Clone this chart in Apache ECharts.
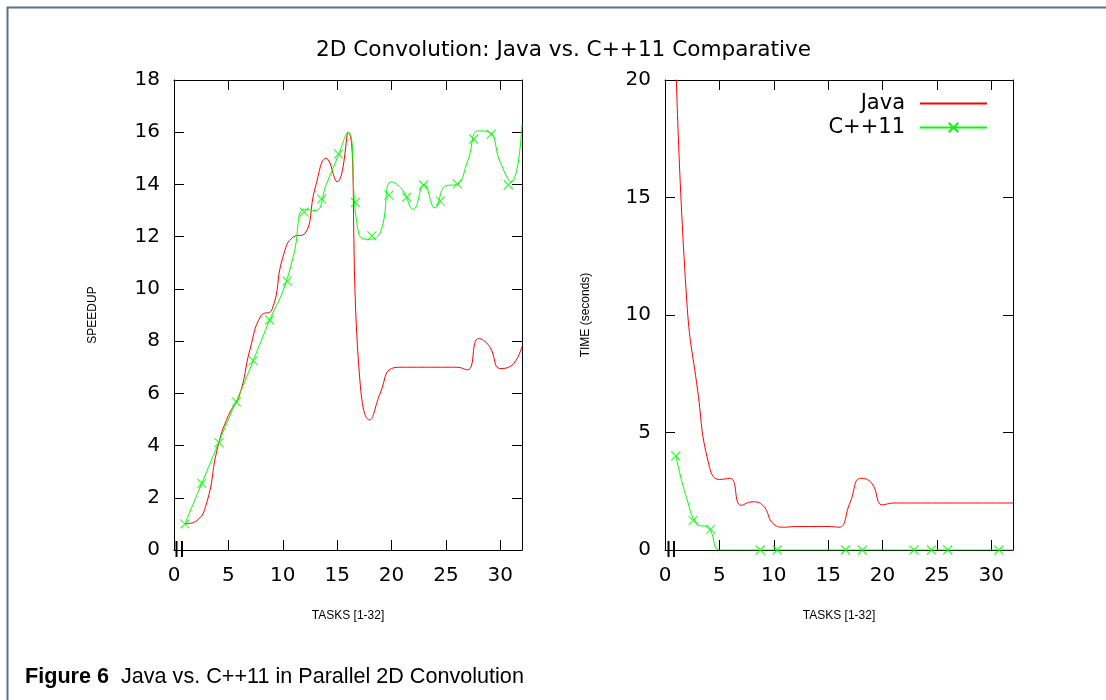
<!DOCTYPE html>
<html>
<head>
<meta charset="utf-8">
<title>2D Convolution: Java vs. C++11</title>
<script src="https://cdn.jsdelivr.net/npm/echarts@6/dist/echarts.min.js"></script>
<style>
  html, body { margin: 0; padding: 0; background: #fff; }
  #chart { width: 1106px; height: 700px; }
</style>
</head>
<body>
<div id="chart"></div>
<script>
// tasks 1..32
const tasks = [1, 2, 3, 4, 5, 6, 7, 8, 9, 10, 11, 12, 13, 14, 15, 16,
  17, 18, 19, 20, 21, 22, 23, 24, 25, 26, 27, 28, 29, 30, 31, 32]

// left plot: speedup
const javaSpeedup = [1.0, 1.1, 1.8, 3.9, 5.15, 5.9, 7.7, 8.97, 9.2, 11.2, 12.0, 12.1, 13.9, 15.0, 14.1, 16.0,
  7.0, 4.98, 6.05, 6.95, 7.0, 7.0, 7.0, 7.0, 7.0, 7.0, 6.9, 8.1, 7.8, 6.95, 7.05, 7.8]
const cppSpeedup = [1.0, 2.0, 3.0, 4.0, 5.0, 5.95, 6.95, 8.0, 9.0, 9.9, 11.3, 13.05, 13.0, 14.0, 15.0, 16.0,
  12.1, 11.9, 12.2, 14.1, 13.8, 13.05, 14.0, 13.1, 13.95, 14.0, 14.9, 16.05, 16.0, 14.85, 14.1, 16.3]
// C++11 point markers (every 5th sample of the smoothed curve)
const cppSpeedupMarkX = [1.0, 2.56, 4.15, 5.74, 7.3, 8.8, 10.41, 11.97, 13.57, 15.13,
  16.69, 18.2, 19.77, 21.4, 22.95, 24.49, 26.04, 27.57, 29.17, 30.75]
const cppSpeedupMarkY = [1.0, 2.55, 4.11, 5.67, 7.25, 8.81, 10.3, 12.94, 13.45, 15.17,
  13.31, 12.03, 13.59, 13.51, 13.98, 13.36, 14.02, 15.74, 15.93, 13.98]

// right plot: time (seconds)
const javaTime = [20.7, 10.6, 6.8, 3.7, 3.0, 3.05, 1.9, 2.05, 1.9, 1.1, 0.97, 1.0, 1.0, 1.0, 1.0, 0.97,
  2.0, 3.05, 2.85, 1.92, 2.0, 2.0, 2.0, 2.0, 2.0, 2.0, 2.0, 2.0, 2.0, 2.0, 2.0, 2.0]
const cppTime = [4.0, 2.2, 1.1, 0.95, 0, 0, 0, 0, 0, 0, 0, 0, 0, 0, 0, 0,
  0, 0, 0, 0, 0, 0, 0, 0, 0, 0, 0, 0, 0, 0, 0, 0]
const cppTimeMarkX = [1.0, 2.59, 4.2, 8.76, 10.32, 16.6, 18.15, 22.9, 24.5, 26.0, 30.7]
const cppTimeMarkY = [4.0, 1.26, 0.88, 0, 0, 0, 0, 0, 0, 0, 0]

const xTicks = { min: 0, max: 32, interval: 5 }
const speedupTicks = { min: 0, max: 18, interval: 2 }
const timeTicks = { min: 0, max: 20, interval: 5 }

const RED = '#ff0000'
const GREEN = '#00ff00'
const CROSS = 'path://M0,0L10,10M10,0L0,10'

const pairs = (xs, ys) => xs.map((x, i) => [x, ys[i]])

const tick = { show: true, inside: true, length: 10, lineStyle: { color: '#000', width: 1 } }
const line = { show: true, onZero: false, lineStyle: { color: '#000', width: 1 } }
const label = { margin: 16, fontFamily: 'DejaVu Sans', fontSize: 20, color: '#000', showMaxLabel: false }
const nameFont = { fontFamily: 'Liberation Sans', fontSize: 12, color: '#000' }

function xAxes(g, z) {
  return [
    Object.assign({ type: 'value', gridIndex: g, position: 'bottom', z: z,
      name: 'TASKS [1-32]', nameLocation: 'middle', nameGap: 60, nameTextStyle: nameFont,
      axisLine: line, axisTick: tick, axisLabel: label, splitLine: { show: false } }, xTicks),
    Object.assign({ type: 'value', gridIndex: g, position: 'top',
      axisLine: line, axisTick: tick, axisLabel: { show: false }, splitLine: { show: false } }, xTicks)
  ]
}

function yAxes(g, ticks, name, gap) {
  return [
    Object.assign({ type: 'value', gridIndex: g, position: 'left',
      name: name, nameLocation: 'middle', nameGap: gap, nameTextStyle: nameFont,
      axisLine: line, axisTick: tick, axisLabel: Object.assign({}, label, { margin: 14, showMaxLabel: true }),
      splitLine: { show: false } }, ticks),
    Object.assign({ type: 'value', gridIndex: g, position: 'right',
      axisLine: line, axisTick: tick, axisLabel: { show: false }, splitLine: { show: false } }, ticks)
  ]
}

const chart = echarts.init(document.getElementById('chart'))

chart.setOption({
  animation: false,
  backgroundColor: '#fff',
  title: [{
    text: '2D Convolution: Java vs. C++11 Comparative',
    left: 316,
    top: 39,
    padding: 0,
    textStyle: { fontFamily: 'DejaVu Sans', fontSize: 21.6, fontWeight: 'normal', color: '#000' }
  }, {
    text: '{b|Figure 6}  Java vs. C++11 in Parallel 2D Convolution',
    left: 25,
    top: 666,
    padding: 0,
    textStyle: {
      fontFamily: 'Liberation Sans', fontSize: 21.6, fontWeight: 'normal', color: '#000',
      rich: { b: { fontFamily: 'Liberation Sans', fontSize: 21.6, fontWeight: 'bold', color: '#000' } }
    }
  }],
  legend: {
    orient: 'vertical',
    right: 113,
    top: 88,
    align: 'right',
    itemWidth: 67,
    itemHeight: 12,
    itemGap: 3,
    selectedMode: false,
    textStyle: { fontFamily: 'DejaVu Sans', fontSize: 21, lineHeight: 20, color: '#000', padding: [0, 10, 0, 0] },
    data: [{ name: 'Java', itemStyle: { opacity: 0 } }, 'C++11']
  },
  grid: [
    { left: 174, top: 80, width: 348, height: 470 },
    { left: 665, top: 80, width: 348, height: 470 }
  ],
  xAxis: xAxes(0, 0).concat(xAxes(1, 3)),
  yAxis: yAxes(0, speedupTicks, 'SPEEDUP', 75).concat(yAxes(1, timeTicks, 'TIME (seconds)', 73)),
  series: [
    {
      name: 'Java', type: 'line', xAxisIndex: 0, yAxisIndex: 0,
      data: pairs(tasks, javaSpeedup), smooth: 0.5, symbol: 'none',
      lineStyle: { color: RED, width: 1 }, itemStyle: { color: RED }
    },
    {
      name: 'C++11', type: 'line', xAxisIndex: 0, yAxisIndex: 0,
      data: pairs(tasks, cppSpeedup), smooth: 0.5, symbol: CROSS, showSymbol: false,
      lineStyle: { color: GREEN, width: 1 },
      itemStyle: { color: GREEN, borderColor: GREEN, borderWidth: 1.2 }
    },
    {
      type: 'scatter', xAxisIndex: 0, yAxisIndex: 0, z: 4,
      data: pairs(cppSpeedupMarkX, cppSpeedupMarkY), symbol: CROSS, symbolSize: 9,
      itemStyle: { color: GREEN, borderColor: GREEN, borderWidth: 1.2 }
    },
    {
      name: 'Java', type: 'line', xAxisIndex: 2, yAxisIndex: 2,
      data: pairs(tasks, javaTime), smooth: 0.5, symbol: 'none',
      lineStyle: { color: RED, width: 1 }, itemStyle: { color: RED }
    },
    {
      name: 'C++11', type: 'line', xAxisIndex: 2, yAxisIndex: 2,
      data: pairs(tasks, cppTime), smooth: 0.5, symbol: CROSS, showSymbol: false,
      lineStyle: { color: GREEN, width: 1 },
      itemStyle: { color: GREEN, borderColor: GREEN, borderWidth: 1.2 }
    },
    {
      type: 'scatter', xAxisIndex: 2, yAxisIndex: 2, z: 4,
      data: pairs(cppTimeMarkX, cppTimeMarkY), symbol: CROSS, symbolSize: 9,
      itemStyle: { color: GREEN, borderColor: GREEN, borderWidth: 1.2 }
    }
  ],
  graphic: [
    // page frame (left and top edges)
    { type: 'polyline', shape: { points: [[7.5, 700], [7.5, 7.5], [1106, 7.5]] },
      style: { stroke: '#56728f', lineWidth: 2, fill: null } },
    // small double bars at the origin
    { type: 'line', shape: { x1: 176.5, y1: 541, x2: 176.5, y2: 557 }, style: { stroke: '#000', lineWidth: 2 } },
    { type: 'line', shape: { x1: 182, y1: 541, x2: 182, y2: 557 }, style: { stroke: '#000', lineWidth: 2 } },
    { type: 'line', shape: { x1: 668.5, y1: 541, x2: 668.5, y2: 557 }, style: { stroke: '#000', lineWidth: 2 } },
    { type: 'line', shape: { x1: 674, y1: 541, x2: 674, y2: 557 }, style: { stroke: '#000', lineWidth: 2 } }
  ]
})
</script>
</body>
</html>
